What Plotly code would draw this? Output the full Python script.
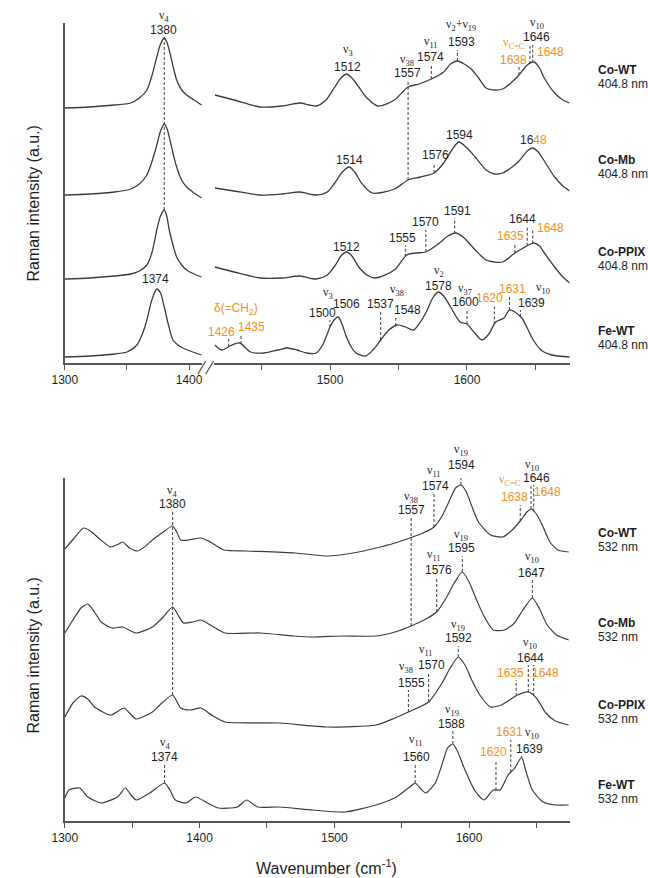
import numpy as np
import plotly.graph_objects as go

# ---------------- data (wavenumber, relative intensity) ----------------
# 404.8 nm excitation (top panel)
wn_cowt_405 = [1300,1320,1340,1353,1360,1366,1370,1374,1377,1380,1382,1384,1387,1390,1394,1398,1404,1410,
               1416,1430,1449,1465,1478,1485,1490,1497,1503,1508,1512,1516,1521,1527,1535,1547,1557,1565,1574,
               1583,1588,1593,1598,1603,1608,1614,1620,1626,1632,1638,1644,1649,1653,1656,1664,1670,1675]
int_cowt_405 = [2,3,5,7,12,20,34,53,66,72,68,60,44,30,20,15,10,5,
                15,10,3,4,7,5,4,10,22,32,36,32,23,12,4,10,23,26,31,
                38,46,49,46,41,33,22,20,21,27,35,45,48,42,33,17,10,7]

wn_comb_405 = [1300,1320,1340,1353,1360,1366,1370,1374,1377,1380,1382,1384,1387,1390,1394,1398,1404,1410,
               1416,1430,1449,1465,1478,1490,1498,1504,1509,1514,1518,1523,1531,1547,1557,1566,1576,1583,1589,
               1594,1600,1606,1614,1620,1626,1632,1638,1644,1648,1652,1656,1664,1670,1675]
int_comb_405 = [1,2,4,7,12,21,34,51,65,72,68,59,43,29,16,9,3,-2,
                8,5,1,2,4,1,4,14,24,29,24,13,3,7,16,19,23,33,46,
                54,48,39,26,22,23,28,35,45,48,44,36,19,10,5]

wn_coppix_405 = [1300,1320,1340,1353,1360,1366,1370,1374,1377,1380,1382,1384,1387,1390,1394,1398,1404,1410,
                 1416,1430,1449,1465,1478,1490,1498,1504,1508,1512,1516,1521,1527,1533,1547,1556,1563,1570,1580,
                 1586,1592,1598,1606,1614,1620,1626,1635,1641,1645,1649,1653,1656,1664,1670,1675]
int_coppix_405 = [4,5,7,9,12,18,30,53,67,73,67,53,38,26,18,13,9,6,
                  16,11,5,5,7,4,8,18,27,31,27,16,8,5,13,28,30,31,40,
                  47,50,45,33,23,21,21,30,35,38,40,37,31,16,6,0]

wn_fewt_405 = [1300,1320,1340,1350,1358,1363,1366,1370,1374,1377,1380,1383,1387,1391,1395,1403,1410,
               1416,1421,1427,1434,1442,1452,1462,1469,1476,1483,1490,1495,1500,1503,1506,1509,1512,1516,1519,
               1526,1532,1537,1543,1549,1555,1561,1566,1571,1575,1579,1583,1588,1595,1600,1605,1611,1616,1621,
               1627,1631,1635,1640,1644,1648,1654,1662,1675]
int_fewt_405 = [1,2,4,6,13,26,38,58,69,65,51,35,18,13,10,6,3,
                13,8,12,15,6,5,8,10,8,5,5,14,31,38,41,33,21,10,5,
                2,9,18,28,33,31,28,36,48,60,66,62,51,36,34,26,18,24,36,
                40,48,46,40,30,19,8,3,1]

# 532 nm excitation (bottom panel)
wn_cowt_532 = [1300,1307,1314,1320,1325,1334,1340,1343,1348,1354,1360,1365,1372,1380,1383,1386,1392,1401,1408,
               1418,1435,1471,1495,1514,1531,1545,1556,1566,1574,1580,1586,1590,1594,1598,1602,1607,1616,1625,
               1632,1638,1643,1646,1650,1654,1660,1666,1674]
int_cowt_532 = [7,18,28,24,18,9,12,14,8,5,10,16,23,30,24,16,16,18,14,
                6,5,3,0,3,8,13,18,23,29,40,57,68,71,64,50,34,21,19,
                26,35,44,47,42,32,14,6,4]

wn_comb_532 = [1300,1306,1312,1317,1322,1327,1335,1343,1353,1365,1373,1380,1384,1388,1395,1401,1408,1419,
               1445,1470,1484,1505,1531,1545,1557,1568,1576,1583,1589,1595,1600,1605,1611,1618,1626,1633,
               1640,1647,1652,1658,1665,1674]
int_comb_532 = [7,20,32,36,28,18,12,13,7,13,23,33,25,17,18,20,15,7,
                7,4,3,4,4,8,14,21,28,42,57,68,58,42,24,10,10,16,
                30,42,32,15,5,0]

wn_coppix_532 = [1300,1306,1312,1317,1322,1334,1344,1348,1353,1365,1372,1380,1386,1393,1401,1410,1419,1459,
                 1495,1531,1545,1555,1570,1580,1586,1592,1597,1602,1608,1616,1624,1630,1636,1644,1650,1657,
                 1664,1674]
int_coppix_532 = [10,24,31,28,20,12,19,14,8,15,24,32,19,17,19,11,5,4,
                  0,2,9,15,25,44,59,70,62,47,32,20,22,27,32,35,29,14,
                  6,2]

wn_fewt_532 = [1300,1303,1311,1317,1327,1339,1345,1349,1353,1363,1374,1378,1382,1390,1397,1406,1414,1428,
               1435,1443,1459,1484,1508,1531,1546,1556,1560,1565,1568,1575,1581,1584,1588,1591,1597,1604,
               1611,1618,1623,1629,1634,1639,1642,1647,1655,1664,1674]
int_fewt_532 = [14,22,24,15,9,15,24,17,12,19,29,22,12,9,15,9,4,5,
                12,5,5,2,0,7,15,25,29,22,19,29,52,64,68,62,42,22,
                12,22,22,37,44,55,42,22,10,7,7]

samples = ["Co-WT", "Co-Mb", "Co-PPIX", "Fe-WT"]
top_offsets = [253, 167, 80, 5]
bot_offsets = [265, 181, 94, 9]
x_ticks = [1300, 1350, 1400, 1450, 1500, 1550, 1600, 1650]
x_ticktext = ["1300", "", "1400", "", "1500", "", "1600", ""]

top_series = [(wn_cowt_405, int_cowt_405), (wn_comb_405, int_comb_405),
              (wn_coppix_405, int_coppix_405), (wn_fewt_405, int_fewt_405)]
bot_series = [(wn_cowt_532, int_cowt_532), (wn_comb_532, int_comb_532),
              (wn_coppix_532, int_coppix_532), (wn_fewt_532, int_fewt_532)]

# ---------------- layout geometry ----------------
W, H = 648, 878
LINE = "#3c3c3c"
AX = "#555555"
TXT = "#1e1e1e"
ORANGE = "#F39019"
SANS = "Liberation Sans, Arial, sans-serif"
SERIF = "Liberation Serif, Times New Roman, serif"

TOP_AX_PY, TOP_TOP_PY = 363, 23
BOT_AX_PY, BOT_TOP_PY = 821, 478

fig = go.Figure()

# top panel traces (broken axis)
for (wn, it), off in zip(top_series, top_offsets):
    wn = np.array(wn, float); it = np.array(it, float) + off
    left = wn <= 1411
    right = wn >= 1414
    fig.add_trace(go.Scatter(x=wn[left], y=it[left], mode="lines", xaxis="x", yaxis="y",
                             line=dict(color=LINE, width=1.3, shape="spline", smoothing=0.8),
                             showlegend=False, hoverinfo="skip"))
    fig.add_trace(go.Scatter(x=wn[right], y=it[right], mode="lines", xaxis="x2", yaxis="y",
                             line=dict(color=LINE, width=1.3, shape="spline", smoothing=0.8),
                             showlegend=False, hoverinfo="skip"))

for (wn, it), off in zip(bot_series, bot_offsets):
    wn = np.array(wn, float); it = np.array(it, float) + off
    fig.add_trace(go.Scatter(x=wn, y=it, mode="lines", xaxis="x3", yaxis="y3",
                             line=dict(color=LINE, width=1.2, shape="spline", smoothing=0.6),
                             showlegend=False, hoverinfo="skip"))

def fx(px):
    return px / W

def fy(py):
    return 1 - py / H

axis_common = dict(showline=True, linecolor=AX, linewidth=1.5, ticks="outside", ticklen=5,
                   tickcolor=AX, tickwidth=1, showgrid=False, zeroline=False,
                   tickfont=dict(family=SANS, size=12, color=TXT), tickvals=x_ticks, ticktext=x_ticktext)

fig.update_layout(
    width=W, height=H, margin=dict(l=0, r=0, t=0, b=0),
    paper_bgcolor="white", plot_bgcolor="white",
    xaxis=dict(domain=[fx(53), fx(193)], range=[1300, 1300 + 140 / 1.27], anchor="y", **axis_common),
    xaxis2=dict(domain=[fx(205), fx(569)], range=[1500 - 119 / 1.4, 1675], anchor="y", **axis_common),
    yaxis=dict(domain=[fy(TOP_AX_PY), fy(TOP_TOP_PY)], range=[0, TOP_AX_PY - TOP_TOP_PY], anchor="x",
               showline=True, linecolor=AX, linewidth=1.5, showticklabels=False, ticks="",
               showgrid=False, zeroline=False),
    xaxis3=dict(domain=[fx(53), fx(569)], range=[1300, 1300 + 516 / 1.377], anchor="y3", **axis_common),
    yaxis3=dict(domain=[fy(BOT_AX_PY), fy(BOT_TOP_PY)], range=[0, BOT_AX_PY - BOT_TOP_PY], anchor="x3",
                showline=True, linecolor=AX, linewidth=1.5, showticklabels=False, ticks="",
                showgrid=False, zeroline=False),
)

annotations = []
shapes = []

def txt(px, py, s, color=TXT, size=12, family=SANS, xanchor="center"):
    annotations.append(dict(x=fx(px), y=fy(py), xref="paper", yref="paper", text=s, showarrow=False,
                            xanchor=xanchor, yanchor="middle",
                            font=dict(family=family, size=size, color=color)))

def nu(px, py, sub, color=TXT):
    txt(px, py, "ν<sub>%s</sub>" % sub, color=color, size=12, family=SERIF)

def trace_val(series, offsets, idx, wn):
    w, it = series[idx]
    return float(np.interp(wn, w, it)) + offsets[idx]

def dash_top(wn, idx, top_py):
    xr = "x" if wn < 1412 else "x2"
    y0 = trace_val(top_series, top_offsets, idx, wn)
    shapes.append(dict(type="line", xref=xr, yref="y", x0=wn, x1=wn, y0=y0, y1=TOP_AX_PY - top_py,
                       line=dict(color=LINE, width=1, dash="3px,2px")))

def dash_bot(wn, idx, top_py):
    y0 = trace_val(bot_series, bot_offsets, idx, wn)
    shapes.append(dict(type="line", xref="x3", yref="y3", x0=wn, x1=wn, y0=y0, y1=BOT_AX_PY - top_py,
                       line=dict(color=LINE, width=1, dash="3px,2px")))

def mixed(a, b):
    return '%s<span style="color:%s">%s</span>' % (a, ORANGE, b)

# ---------- top panel labels ----------
nu(154, 16, "4"); txt(154, 30, "1380")
dash_top(1380, 2, 37)
# Co-WT
nu(342, 50, "3"); txt(342, 67, "1512")
nu(403, 60, "38"); txt(403, 73, "1557"); dash_top(1557, 1, 80)
nu(427, 42, "11"); txt(427, 57, "1574"); dash_top(1574, 0, 64)
txt(458, 25, "ν<sub>2</sub>+ν<sub>19</sub>", family=SERIF); txt(458, 42, "1593"); dash_top(1593, 0, 50)
nu(512, 43, "C=C", color=ORANGE); txt(512, 60, "1638", color=ORANGE); dash_top(1638, 0, 67)
nu(536, 23, "10"); txt(535, 37, "1646"); dash_top(1646, 0, 45)
txt(549, 52, "1648", color=ORANGE); dash_top(1648, 0, 45)
# Co-Mb
txt(344, 160, "1514")
txt(432, 155, "1576"); dash_top(1576, 1, 163)
txt(456, 135, "1594")
txt(532, 140, mixed("16", "48"))
# Co-PPIX
txt(341, 247, "1512")
txt(398, 238, "1555"); dash_top(1555, 2, 245)
txt(422, 222, "1570"); dash_top(1570, 2, 230)
txt(454, 211, "1591"); dash_top(1591, 2, 218)
txt(521, 219, "1644"); dash_top(1644, 2, 226)
txt(508, 236, "1635", color=ORANGE); dash_top(1635, 2, 243)
txt(549, 228, "1648", color=ORANGE); dash_top(1648, 2, 230)
# Fe-WT
txt(146, 279, "1374")
txt(228, 309, "δ(=CH<sub>2</sub>)", color=ORANGE)
txt(213, 332, "1426", color=ORANGE); dash_top(1426, 3, 339)
txt(244, 327, "1435", color=ORANGE); dash_top(1435, 3, 335)
nu(322, 293, "3"); txt(316, 313, "1500"); dash_top(1500, 3, 320)
txt(341, 304, "1506")
nu(392, 290, "38"); txt(376, 304, "1537"); dash_top(1537, 3, 312)
txt(403, 310, "1548"); dash_top(1548, 3, 318)
nu(435, 271, "2"); txt(435, 286, "1578")
nu(462, 289, "37"); txt(463, 302, "1600"); dash_top(1600, 3, 309)
txt(487, 298, "1620", color=ORANGE); dash_top(1620, 3, 305)
txt(511, 289, "1631", color=ORANGE); dash_top(1631, 3, 297)
nu(542, 288, "10"); txt(530, 303, "1639"); dash_top(1639, 3, 310)

top_label_py = [70, 160, 252, 331]
for name, py in zip(samples, top_label_py):
    txt(596, py, "<b>%s</b>" % name, xanchor="left")
    txt(596, py + 14, "404.8 nm", xanchor="left")

# ---------- bottom panel labels ----------
nu(163, 491, "4"); txt(163, 504, "1380"); dash_bot(1380, 2, 511)
nu(407, 497, "38"); txt(407, 510, "1557"); dash_bot(1557, 1, 517)
nu(430, 471, "11"); txt(432, 486, "1574"); dash_bot(1574, 0, 493)
nu(458, 450, "19"); txt(458, 465, "1594"); dash_bot(1594, 0, 473)
nu(508, 480, "C=C", color=ORANGE); txt(513, 497, "1638", color=ORANGE); dash_bot(1638, 0, 505)
nu(530, 465, "10"); txt(535, 478, "1646"); dash_bot(1646, 0, 485)
txt(546, 492, "1648", color=ORANGE); dash_bot(1648, 0, 485)
# Co-Mb
nu(458, 535, "19"); txt(458, 548, "1595"); dash_bot(1595, 1, 556)
nu(430, 555, "11"); txt(435, 570, "1576"); dash_bot(1576, 1, 578)
nu(530, 557, "10"); txt(530, 573, "1647"); dash_bot(1647, 1, 580)
# Co-PPIX
nu(455, 625, "19"); txt(455, 638, "1592"); dash_bot(1592, 2, 646)
nu(402, 667, "38"); txt(407, 683, "1555"); dash_bot(1555, 2, 690)
nu(422, 650, "11"); txt(428, 665, "1570"); dash_bot(1570, 2, 673)
nu(528, 643, "10"); txt(529, 658, "1644"); dash_bot(1644, 2, 665)
txt(508, 673, "1635", color=ORANGE); dash_bot(1635, 2, 680)
txt(544, 673, "1648", color=ORANGE); dash_bot(1648, 2, 665)
# Fe-WT
nu(449, 710, "19"); txt(448, 724, "1588"); dash_bot(1588, 3, 731)
nu(412, 740, "11"); txt(412, 757, "1560"); dash_bot(1560, 3, 764)
txt(491, 752, "1620", color=ORANGE); dash_bot(1620, 3, 760)
txt(507, 732, "1631", color=ORANGE); dash_bot(1631, 3, 740)
nu(530, 733, "10"); txt(528, 749, "1639"); dash_bot(1639, 3, 756)
nu(155, 743, "4"); txt(155, 757, "1374"); dash_bot(1374, 3, 764)

bot_label_py = [533, 623, 705, 785]
for name, py in zip(samples, bot_label_py):
    txt(596, py, "<b>%s</b>" % name, xanchor="left")
    txt(596, py + 14, "532 nm", xanchor="left")

# axis titles
annotations.append(dict(x=fx(20), y=fy(203), xref="paper", yref="paper", text="Raman intensity (a.u.)",
                        textangle=-90, showarrow=False, xanchor="center", yanchor="middle",
                        font=dict(family=SANS, size=16, color=TXT)))
annotations.append(dict(x=fx(20), y=fy(655), xref="paper", yref="paper", text="Raman intensity (a.u.)",
                        textangle=-90, showarrow=False, xanchor="center", yanchor="middle",
                        font=dict(family=SANS, size=16, color=TXT)))
txt(320, 867, "Wavenumber (cm<sup>-1</sup>)", size=16)

# axis-break marks
for x0 in (189, 197):
    shapes.append(dict(type="line", xref="paper", yref="paper", x0=fx(x0), x1=fx(x0 + 8),
                       y0=fy(374), y1=fy(361), line=dict(color=AX, width=1.3)))

fig.update_layout(annotations=annotations, shapes=shapes)
fig.write_html("out.html")
